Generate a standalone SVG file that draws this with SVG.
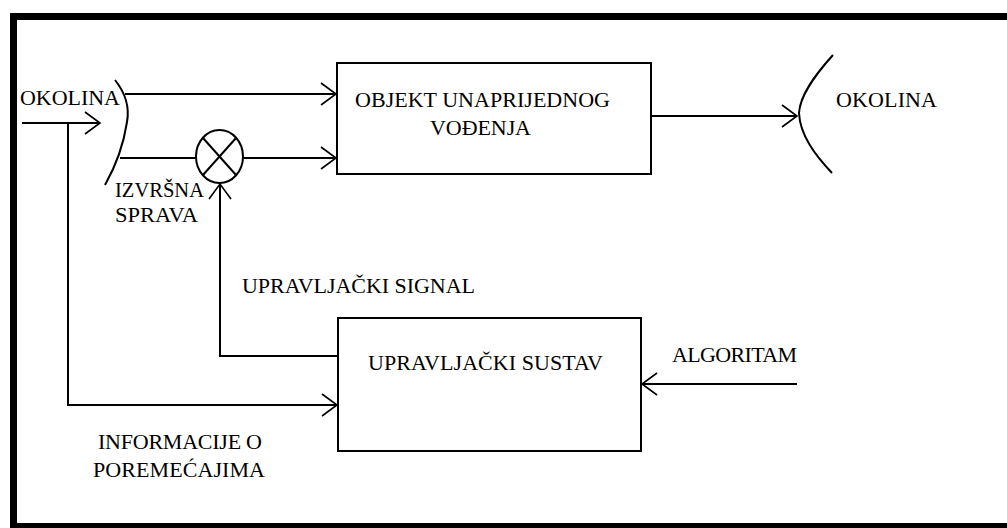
<svg xmlns="http://www.w3.org/2000/svg" width="1007" height="528" viewBox="0 0 1007 528">
  <style>
    .ln { fill: none; stroke: #000; stroke-width: 2; }
    .box { fill: #fff; stroke: #000; stroke-width: 2; }
    .t { font-family: "Liberation Serif", "Times New Roman", serif; font-size: 22px; fill: #000; }
  </style>
  <defs>
    <marker id="arr" markerUnits="userSpaceOnUse" viewBox="-17 -13 19 26" refX="0" refY="0" markerWidth="19" markerHeight="26" orient="auto">
      <path d="M-15,-11 L0,0 L-15,11" fill="none" stroke="#000" stroke-width="1.6"/>
    </marker>
  </defs>
  <rect x="0" y="0" width="1007" height="528" fill="#fff"/>
  <g id="frame">
    <path d="M1007,16.5 H13.5 V526.5 H1007" fill="none" stroke="#000" stroke-width="7"/>
  </g>

  <g id="connectors">
    <!-- environment input -->
    <line class="ln" x1="22" y1="123" x2="100" y2="123" marker-end="url(#arr)"/>
    <!-- disturbance info line -->
    <polyline class="ln" points="68,123 68,405 337,405" marker-end="url(#arr)"/>
    <!-- top input to object -->
    <line class="ln" x1="125" y1="94" x2="336" y2="94" marker-end="url(#arr)"/>
    <!-- from bracket to summing junction -->
    <line class="ln" x1="120" y1="158" x2="196" y2="158"/>
    <!-- summing junction to object -->
    <line class="ln" x1="243" y1="158" x2="336" y2="158" marker-end="url(#arr)"/>
    <!-- control signal -->
    <polyline class="ln" points="338,356 220,356 220,184" marker-end="url(#arr)"/>
    <!-- output -->
    <line class="ln" x1="651" y1="116" x2="797" y2="116" marker-end="url(#arr)"/>
    <!-- algorithm input -->
    <line class="ln" x1="797" y1="384" x2="642" y2="384" marker-end="url(#arr)"/>
  </g>

  <g id="okolina-in">
    <path class="ln" d="M115,80 Q131,100 127,122 Q122,155 105,185"/>
    <text class="t" x="20" y="105" textLength="100" lengthAdjust="spacing">OKOLINA</text>
  </g>

  <g id="izvrsna-sprava">
    <ellipse class="ln" cx="219.5" cy="156.5" rx="23.5" ry="26.5"/>
    <line class="ln" x1="203" y1="138" x2="236" y2="175"/>
    <line class="ln" x1="236" y1="138" x2="203" y2="175"/>
    <text class="t" x="115" y="197" textLength="89" lengthAdjust="spacingAndGlyphs">IZVRŠNA</text>
    <text class="t" x="115" y="222" textLength="83" lengthAdjust="spacingAndGlyphs">SPRAVA</text>
  </g>

  <g id="objekt">
    <rect class="box" x="337" y="63" width="314" height="111"/>
    <text class="t" x="355" y="107" textLength="255" lengthAdjust="spacing">OBJEKT UNAPRIJEDNOG</text>
    <text class="t" x="430" y="135" textLength="101" lengthAdjust="spacing">VOĐENJA</text>
  </g>

  <g id="okolina-out">
    <path class="ln" d="M833,55 C815,75 800,95 799,113 C800,135 815,155 832,173"/>
    <text class="t" x="836" y="107" textLength="101" lengthAdjust="spacing">OKOLINA</text>
  </g>

  <g id="upravljacki-signal">
    <text class="t" x="242" y="293" textLength="233" lengthAdjust="spacing">UPRAVLJAČKI SIGNAL</text>
  </g>

  <g id="upravljacki-sustav">
    <rect class="box" x="338" y="318" width="303" height="133"/>
    <text class="t" x="368" y="370" textLength="235" lengthAdjust="spacing">UPRAVLJAČKI SUSTAV</text>
  </g>

  <g id="algoritam">
    <text class="t" x="672" y="362" textLength="125" lengthAdjust="spacing">ALGORITAM</text>
  </g>

  <g id="informacije">
    <text class="t" x="98" y="449" textLength="164" lengthAdjust="spacing">INFORMACIJE O</text>
    <text class="t" x="93" y="477" textLength="172" lengthAdjust="spacing">POREMEĆAJIMA</text>
  </g>
</svg>
